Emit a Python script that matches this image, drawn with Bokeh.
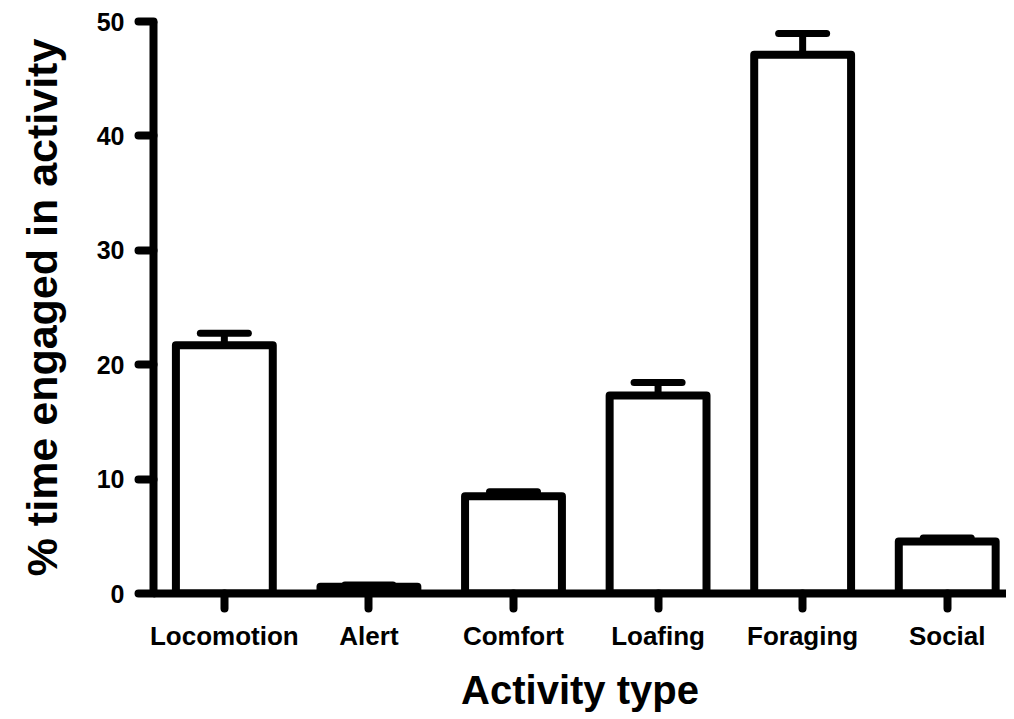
from bokeh.plotting import figure
from bokeh.models import Range1d, FixedTicker, ColumnDataSource
from bokeh.embed import file_html
from bokeh.resources import INLINE

categories = ["Locomotion", "Alert", "Comfort", "Loafing", "Foraging", "Social"]
means = [21.7, 0.6, 8.5, 17.3, 47.1, 4.55]
sems = [1.05, 0.15, 0.4, 1.15, 1.85, 0.3]
y_ticks = [0, 10, 20, 30, 40, 50]

xs = list(range(len(categories)))
tops = [m + s for m, s in zip(means, sems)]
cap_half = 0.166

src = ColumnDataSource(dict(
    x=xs, mean=means, top=tops,
    x0=[x - cap_half for x in xs], x1=[x + cap_half for x in xs],
))

FONT = "Liberation Sans"

p = figure(width=1006, height=715, output_backend="svg", toolbar_location=None,
           x_range=Range1d(-0.49, 5.41), y_range=Range1d(0, 50),
           min_border_left=153, min_border_right=0, min_border_top=21,
           min_border_bottom=122)
p.outline_line_color = None
p.grid.visible = False
p.background_fill_color = "white"

# error bars
p.segment(x0="x", y0="mean", x1="x", y1="top", source=src,
          line_color="black", line_width=7)
p.segment(x0="x0", y0="top", x1="x1", y1="top", source=src,
          line_color="black", line_width=7, line_cap="round")
# bars
p.vbar(x="x", top="mean", bottom=0, width=0.67, source=src,
       fill_color="white", line_color="black", line_width=8, line_join="round")

for ax in (p.xaxis[0], p.yaxis[0]):
    ax.axis_line_width = 8
    ax.axis_line_color = "black"
    ax.major_tick_line_width = 8
    ax.major_tick_line_cap = "round"
    ax.major_tick_in = 0
    ax.major_tick_out = 15
    ax.minor_tick_line_color = None
    ax.major_label_text_font = FONT
    ax.major_label_text_font_style = "bold"
    ax.major_label_text_color = "black"
    ax.axis_label_text_font = FONT
    ax.axis_label_text_font_style = "bold"
    ax.axis_label_text_color = "black"

p.yaxis.ticker = FixedTicker(ticks=y_ticks)
p.yaxis.major_label_text_font_size = "25px"
p.yaxis.major_label_standoff = 14
p.yaxis.axis_label = "% time engaged in activity"
p.yaxis.axis_label_text_font_size = "43px"
p.yaxis.axis_label_standoff = 28

p.xaxis.ticker = FixedTicker(ticks=xs)
p.xaxis.major_label_overrides = {x: c for x, c in zip(xs, categories)}
p.xaxis.major_label_text_font_size = "26px"
p.xaxis.major_label_standoff = 12
p.xaxis.axis_label = "Activity type"
p.xaxis.axis_label_text_font_size = "40px"
p.xaxis.axis_label_standoff = 14

open("out.html", "w").write(file_html(p, INLINE))
